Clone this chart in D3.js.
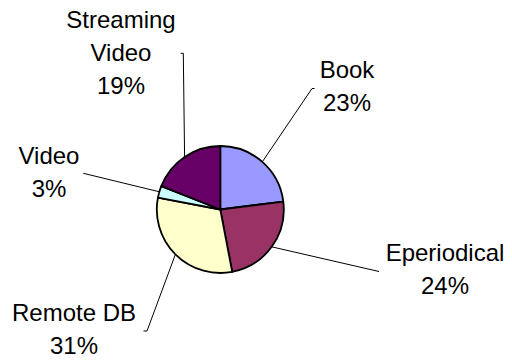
<!DOCTYPE html>
<html>
<head>
<meta charset="utf-8">
<script src="https://cdn.jsdelivr.net/npm/d3@7"></script>
<style>
  html, body { margin: 0; padding: 0; background: #fff; }
  svg { display: block; }
  text { font-family: "Liberation Sans", Arial, sans-serif; font-size: 24px; fill: #000; }
</style>
</head>
<body>
<svg id="chart" width="512" height="364"></svg>
<script>
// Share of use by resource type (percent)
const categories = ["Book", "Eperiodical", "Remote DB", "Video", "Streaming Video"];
const values = [23, 24, 31, 3, 19];
const sliceColors = ["#9999FF", "#993366", "#FFFFCC", "#CCFFFF", "#660066"];
// Label lines as printed (the last line carries the percentage)
const labelLines = [["Book"], ["Eperiodical"], ["Remote DB"], ["Video"], ["Streaming", "Video"]];

// Placement of each callout: text centre x, first baseline y, and the leader's outer points
const calloutLayout = [
  { x: 347, y: 77.5, leader: [[312, 88.5], [314.5, 88.5]] },
  { x: 445, y: 261, leader: [[379, 271.5]] },
  { x: 74,  y: 321, leader: [[147, 331], [143.5, 331]] },
  { x: 49,  y: 163.5, leader: [[83.3, 173.3]] },
  { x: 121, y: 28, leader: [[183.3, 53.3], [180.7, 53.3]] }
];

const cx = 220.3, cy = 209.5, radius = 63.5, lineHeight = 33;

const svg = d3.select("#chart");
const data = categories.map((c, i) => ({ name: c, value: values[i], color: sliceColors[i], lines: labelLines[i], layout: calloutLayout[i] }));

const pie = d3.pie().sort(null).value(d => d.value).startAngle(0).endAngle(2 * Math.PI);
const arc = d3.arc().innerRadius(0).outerRadius(radius);
const arcs = pie(data);

const g = svg.append("g").attr("transform", `translate(${cx},${cy})`);

// Leader lines from the rim at each slice's mid-angle to its label
const edgePoint = a => {
  const m = (a.startAngle + a.endAngle) / 2;
  return [cx + radius * Math.sin(m), cy - radius * Math.cos(m)];
};
svg.append("g").selectAll("polyline")
  .data(arcs)
  .join("polyline")
  .attr("points", a => [edgePoint(a), ...a.data.layout.leader].map(p => p.join(",")).join(" "))
  .attr("fill", "none")
  .attr("stroke", "#000")
  .attr("stroke-width", 1);

// Slices
g.selectAll("path")
  .data(arcs)
  .join("path")
  .attr("d", arc)
  .attr("fill", a => a.data.color)
  .attr("stroke", "#000")
  .attr("stroke-width", 1.8)
  .attr("stroke-linejoin", "round");

// Callout labels: name lines followed by the percentage
const labels = svg.append("g").selectAll("text")
  .data(arcs)
  .join("text")
  .attr("text-anchor", "middle")
  .attr("x", a => a.data.layout.x)
  .attr("y", a => a.data.layout.y);

labels.selectAll("tspan")
  .data(a => [...a.data.lines, `${a.data.value}%`].map((t, i) => ({ t, i, x: a.data.layout.x })))
  .join("tspan")
  .attr("x", d => d.x)
  .attr("dy", d => d.i === 0 ? 0 : lineHeight)
  .text(d => d.t);
</script>
</body>
</html>
